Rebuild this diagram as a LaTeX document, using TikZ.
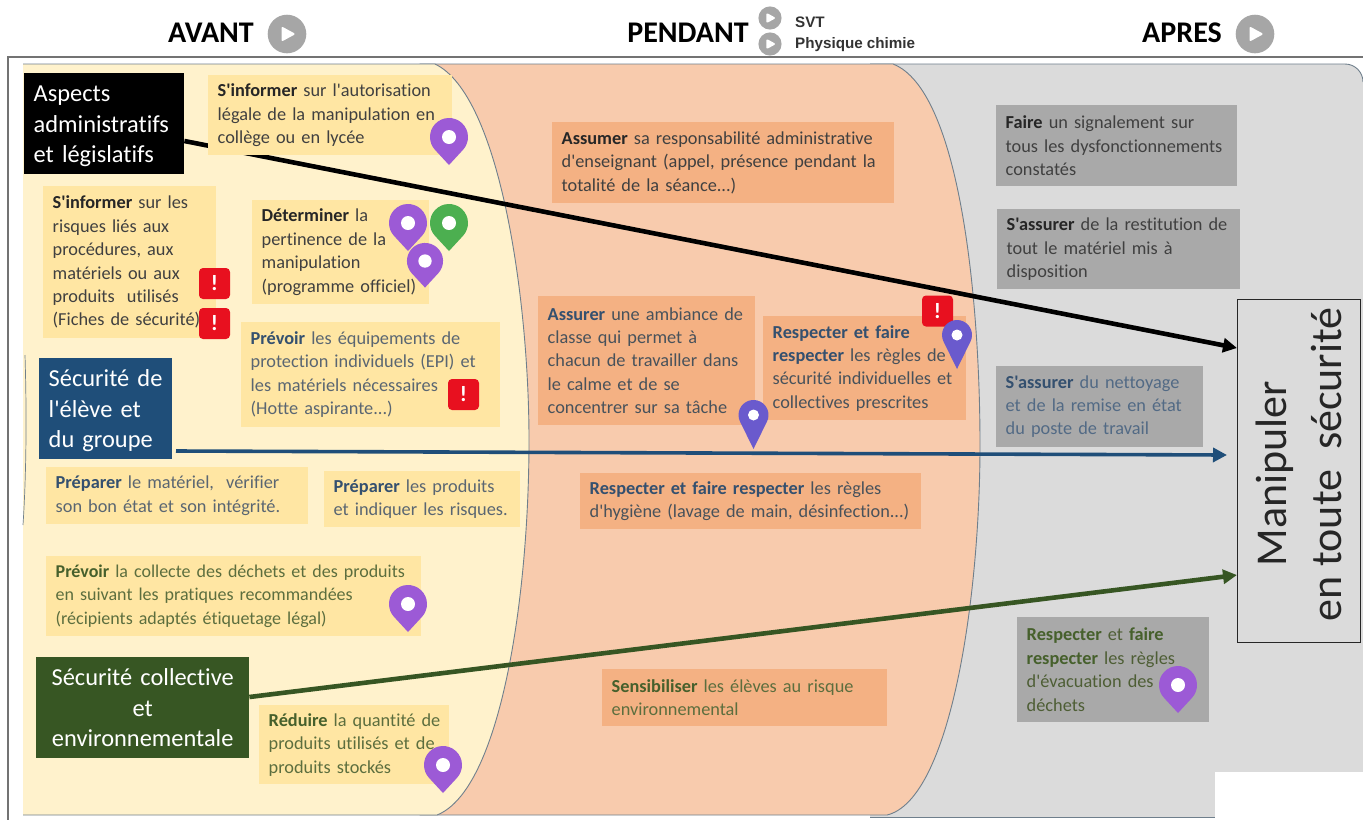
\documentclass[tikz,border=0pt]{standalone}
\usepackage{fontspec}
\setmainfont{Carlito}[Ligatures={NoCommon,TeXOff}]
\newfontfamily\uifont{Liberation Sans}
\usetikzlibrary{arrows.meta}
\definecolor{panelY}{HTML}{FFF2CC}
\definecolor{boxY}{HTML}{FFE6A3}
\definecolor{panelO}{HTML}{F8CBAD}
\definecolor{boxO}{HTML}{F4B183}
\definecolor{panelG}{HTML}{DBDBDB}
\definecolor{boxG}{HTML}{A9A9A9}
\definecolor{edge}{HTML}{6F7F8C}
\definecolor{catBlue}{HTML}{1F4E79}
\definecolor{catGreen}{HTML}{375623}
\definecolor{pinP}{HTML}{9C5AD6}
\definecolor{pinV}{HTML}{6A5ACD}
\definecolor{pinG}{HTML}{4CAF50}
\definecolor{badgeR}{HTML}{E8101F}
\definecolor{playG}{HTML}{A6A6A6}
\definecolor{txtK}{HTML}{404040}
\definecolor{txtB}{HTML}{5A6672}
\definecolor{boldB}{HTML}{34506F}
\definecolor{txtGr}{HTML}{5C6E3E}
\definecolor{boldGr}{HTML}{46602C}
\newcommand\tl[1]{\mbox{#1}}
\newcommand\bk[1]{\textbf{\textcolor{black!85}{#1}}}
\newcommand\bb[1]{\textbf{\textcolor{boldB}{#1}}}
\newcommand\bg[1]{\textbf{\textcolor{boldGr}{#1}}}
\tikzset{
  x=1pt,y=-1pt,
  tbox/.style n args={3}{anchor=north west,rectangle,fill=#3,minimum width=#1pt,minimum height=#2pt,
     text width=#1pt-19pt,inner xsep=9.5pt,inner ysep=0pt,align=left,
     font=\fontsize{18.3}{23.4}\selectfont,text=txtK},
  ybox/.style 2 args={tbox={#1}{#2}{boxY}},
  obox/.style 2 args={tbox={#1}{#2}{boxO}},
  gbox/.style 2 args={tbox={#1}{#2}{boxG}},
  catbox/.style n args={3}{anchor=north west,rectangle,fill=#3,minimum width=#1pt,minimum height=#2pt,
     text width=#1pt-19pt,inner xsep=9.5pt,inner ysep=0pt,text=white,
     font=\fontsize{24.4}{30.2}\selectfont},
  badge/.style={rectangle,fill=badgeR,rounded corners=4pt,minimum size=31pt,inner sep=0pt,text=white,
     font=\fontsize{22}{22}\selectfont\bfseries},
  title/.style={inner sep=0pt,font=\fontsize{30}{30}\selectfont\bfseries,text=black},
  uitext/.style={anchor=west,inner sep=0pt,font=\fontsize{15.2}{16}\selectfont\uifont\bfseries,text=black!80},
  panel/.style={draw=edge,line width=0.9pt},
  conn/.style={line width=#1pt,-{Triangle[length=14pt,width=14pt]}},
  pics/bigpin/.style={code={
    \fill[#1] (13.96,12.88) arc[start angle=-42.7,end angle=222.7,radius=19pt] -- (0,28) -- cycle;
    \fill[white] (0,0) circle[radius=7pt];}},
  pics/slimpin/.style={code={
    \fill[#1] (13.46,6.62) arc[start angle=-26.2,end angle=206.2,radius=15pt] -- (0,34) -- cycle;
    \fill[white] (0,0) circle[radius=5.5pt];}},
  pics/playbtn/.style={code={
    \fill[playG] (0,0) circle[radius=19.3pt];
    \fill[white,draw=white,line width=2pt,line join=round] (-4.5,-6) -- (-4.5,6) -- (6.5,0) -- cycle;}},
}
\begin{document}
\begin{tikzpicture}
\useasboundingbox (0,0) rectangle (1363,820);
\fill[white] (0,0) rectangle (1363,820);
% frame
\draw[line width=1.4pt,black!55] (1363,57) -- (8,57) -- (8,820);
% panels
\fill[panelG] (870,64) -- (1345,64) arc[start angle=90,end angle=0,radius=18pt] -- (1363,817) -- (870,817) -- cycle;
\draw[panel] (870,817) -- (1363,817);
\draw[panel] (870,64) -- (1345,64) arc[start angle=90,end angle=0,radius=18pt];
\path[panel,fill=panelO] (420,64) -- (893,64) .. controls (960,90) and (980,300) .. (980,445)
   .. controls (980,600) and (950,800) .. (887,815) -- (420,815) -- cycle;
\fill[panelY] (23,64) -- (435,64) .. controls (500,95) and (529,300) .. (529,440)
   .. controls (529,600) and (500,790) .. (437,815) -- (23,815) -- cycle;
\draw[panel] (23,64) -- (435,64) .. controls (500,95) and (529,300) .. (529,440)
   .. controls (529,600) and (500,790) .. (437,815) -- (23,815);
\draw[edge,line width=0.7pt] (25,355) .. controls (27,420) and (26,480) .. (23,525);
\fill[white] (1215,772) rectangle (1363,820);

% category boxes and the target
\node[catbox={160}{101}{black}] (catAdmin) at (24,73) {\rule{0pt}{21pt}\tl{Aspects}\\\tl{administratifs}\\\tl{et législatifs}};
\node[catbox={133}{101}{catBlue}] (catEleve) at (39,358) {\rule{0pt}{21pt}\tl{Sécurité de}\\\tl{l'élève et}\\\tl{du groupe}};
\node[catbox={213}{101}{catGreen},align=center] (catColl) at (36,657) {\tl{Sécurité collective}\\et\\\tl{environnementale}};
\node[draw=black!85,line width=1pt,fill=panelG,anchor=north west,minimum width=123pt,minimum height=343pt,inner sep=0pt] (target) at (1237,299) {};
\node[rotate=90,align=center,inner sep=0pt,text=black!85,font=\fontsize{44}{55}\selectfont] (targetText) at ([yshift=6.5pt]target.center) {\mbox{Manipuler\hspace{18pt}}\\en toute\ \ sécurité};

% connectors
\coordinate (outAdmin) at (catAdmin.east |- 0,141);
\coordinate (outEleve) at (176,451);
\coordinate (outColl) at (catColl.east |- 0,697);
\coordinate (inAdmin) at (target.west |- 0,348);
\coordinate (inEleve) at (1227,455);
\coordinate (inColl) at (target.west |- 0,575);
\draw[conn=4.6,black] (outAdmin) -- (inAdmin);
\draw[conn=3.6,catBlue] (outEleve) -- (inEleve);
\draw[conn=4.6,catGreen] (outColl) -- (inColl);

% AVANT boxes
\node[ybox={244}{80}] (y1) at (208,75) {\tl{\bk{S'informer} sur l'autorisation}\\\tl{légale de la manipulation en}\\\tl{collège ou en lycée}};
\node[ybox={173}{152}] (y2) at (43,186) {\tl{\bk{S'informer} sur les}\\\tl{risques liés aux}\\\tl{procédures, aux}\\\tl{matériels ou aux}\\\tl{produits\ \ utilisés}\\\tl{(Fiches de sécurité)}};
\node[ybox={177}{104}] (y3) at (252,200) {\tl{\bk{Déterminer} la}\\\tl{pertinence de la}\\\tl{manipulation}\\\tl{(programme officiel)}};
\node[ybox={259}{105},text=txtB] (y4) at (241,322) {\tl{\bb{Prévoir} les équipements de}\\\tl{protection individuels (EPI) et}\\\tl{les matériels nécessaires}\\\tl{(Hotte aspirante...)}};
\node[ybox={262}{57},text=txtB] (y5) at (46,467) {\tl{\bb{Préparer} le matériel,\ \ vérifier}\\\tl{son bon état et son intégrité.}};
\node[ybox={196}{56},text=txtB] (y6) at (324,471) {\tl{\bb{Préparer} les produits}\\\tl{et indiquer les risques.}};
\node[ybox={375}{80},text=txtGr,font=\fontsize{18}{23.4}\selectfont] (y7) at (46,556) {\tl{\bg{Prévoir} la collecte des déchets et des produits}\\\tl{en suivant les pratiques recommandées}\\\tl{(récipients adaptés étiquetage légal)}};
\node[ybox={190}{79},text=txtGr] (y8) at (259,705) {\tl{\bg{Réduire} la quantité de}\\\tl{produits utilisés et de}\\\tl{produits stockés}};

% PENDANT boxes
\node[obox={342}{81}] (o1) at (552,122) {\tl{\bk{Assumer} sa responsabilité administrative}\\\tl{d'enseignant (appel, présence pendant la}\\\tl{totalité de la séance...)}};
\node[obox={217}{129},text=txtB!80!black] (o2) at (538,296) {\tl{\bb{Assurer} une ambiance de}\\\tl{classe qui permet à}\\\tl{chacun de travailler dans}\\\tl{le calme et de se}\\\tl{concentrer sur sa tâche}};
\node[obox={203}{104},text=txtB!80!black] (o3) at (763,316) {\tl{\bb{Respecter et faire}}\\\tl{\bb{respecter} les règles de}\\\tl{sécurité individuelles et}\\\tl{collectives prescrites}};
\node[obox={341}{56},text=txtB!80!black] (o4) at (580,473) {\tl{\bb{Respecter et faire respecter} les règles}\\\tl{d'hygiène (lavage de main, désinfection...)}};
\node[obox={285}{57},text=txtGr] (o5) at (602,669) {\tl{\bg{Sensibiliser} les élèves au risque}\\\tl{environnemental}};

% APRES boxes
\node[gbox={241}{81}] (g1) at (996,105) {\tl{\bk{Faire} un signalement sur}\\\tl{tous les dysfonctionnements}\\\tl{constatés}};
\node[gbox={243}{80}] (g2) at (997,209) {\tl{\bk{S'assurer} de la restitution de}\\\tl{tout le matériel mis à}\\\tl{disposition}};
\node[gbox={207}{81},text=boldB!85!white] (g3) at (996,366) {\tl{\bb{S'assurer} du nettoyage}\\\tl{et de la remise en état}\\\tl{du poste de travail}};
\node[gbox={192}{105},text=txtGr!85!black] (g4) at (1017,617) {\tl{\bg{Respecter} et \bg{faire}}\\\tl{\bg{respecter} les règles}\\\tl{d'évacuation des}\\\tl{déchets}};

% markers
\node[badge] (r1) at (214.5,283.5) {!};
\node[badge] (r2) at (214.5,323.5) {!};
\node[badge] (r3) at (463.5,394.5) {!};
\node[badge] (r4) at (937.5,311) {!};
\pic at (449,137) {bigpin=pinP};
\pic at (408,223) {bigpin=pinP};
\pic at (449,223) {bigpin=pinG};
\pic[scale=0.95] at (425,261) {bigpin=pinP};
\pic at (408,604) {bigpin=pinP};
\pic at (443,765) {bigpin=pinP};
\pic at (1178,685) {bigpin=pinP};
\pic at (753.5,415) {slimpin=pinV};
\pic at (957,335) {slimpin=pinV};

% header
\node[title] (hAvant) at (211,33) {AVANT};
\node[title] (hPendant) at (688,33) {PENDANT};
\node[title] (hApres) at (1182,33) {APRES};
\pic at (287,34) {playbtn};
\pic at (1255,34) {playbtn};
\pic[scale=0.6] at (770,18) {playbtn};
\pic[scale=0.6] at (770,44) {playbtn};
\node[uitext] (hSvt) at (795,22) {SVT};
\node[uitext] (hPhys) at (795,45) {Physique chimie};
\end{tikzpicture}
\end{document}
